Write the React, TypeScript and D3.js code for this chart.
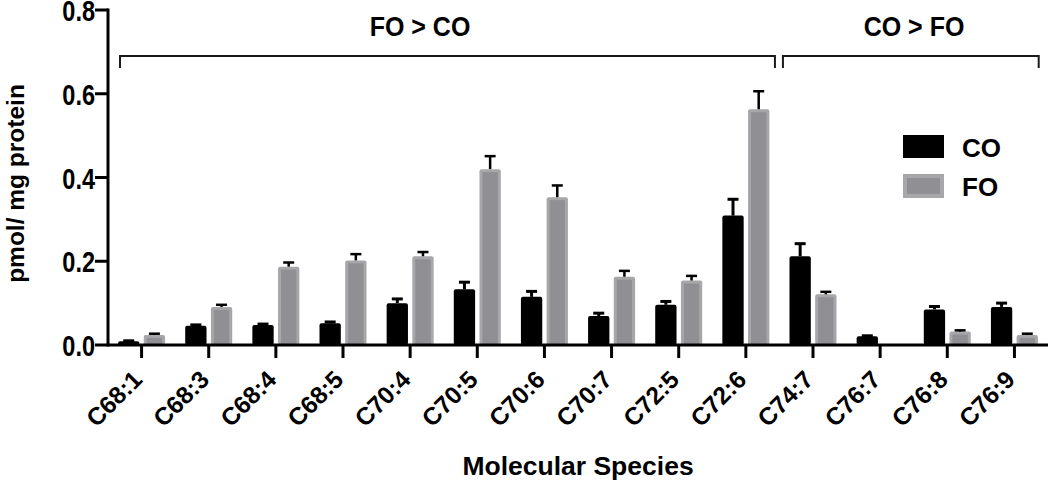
import React from "react";
import * as d3 from "d3";

const categories = ["C68:1","C68:3","C68:4","C68:5","C70:4","C70:5","C70:6","C70:7","C72:5","C72:6","C74:7","C76:7","C76:8","C76:9"];
const seriesNames = ["CO", "FO"];
const coValues = [0.009,0.046,0.048,0.052,0.100,0.133,0.115,0.069,0.096,0.309,0.212,0.021,0.085,0.091];
const coErrors = [0.001,0.002,0.002,0.003,0.010,0.017,0.013,0.007,0.008,0.039,0.030,0.001,0.007,0.009];
const foValues = [0.024,0.091,0.187,0.202,0.212,0.420,0.353,0.163,0.154,0.563,0.121,0,0.032,0.024];
const foErrors = [0.003,0.005,0.010,0.015,0.010,0.031,0.028,0.014,0.011,0.043,0.006,0,0.003,0.003];
const yTicks = [0, 0.2, 0.4, 0.6, 0.8];
const groups = [
  { label: "FO > CO", from: 0, to: 9 },
  { label: "CO > FO", from: 10, to: 13 },
];

const FONT = "'Liberation Sans', Arial, Helvetica, sans-serif";
const W = 1050, H = 485;
const M = { left: 108, right: 1048, top: 10, bottom: 345 };

export default function App() {
  const x0 = d3.scaleBand().domain(categories).range([M.left, M.right]).padding(0);
  const bw0 = x0.bandwidth();
  const x1 = d3.scaleBand().domain(seriesNames).range([bw0 / 2 - 23.5, bw0 / 2 + 23.5]).paddingInner(0.17);
  const y = d3.scaleLinear().domain([0, 0.8]).range([M.bottom, M.top]);
  const bw = x1.bandwidth();

  const series = [
    { name: "CO", values: coValues, errors: coErrors },
    { name: "FO", values: foValues, errors: foErrors },
  ];

  return (
    <svg width={W} height={H} style={{ position: "absolute", left: 0, top: 0, background: "#fff" }} fontFamily={FONT}>
      {/* bars */}
      {series.map((s) =>
        categories.map((c, i) => {
          const v = s.values[i];
          if (v <= 0) return null;
          const bx = (x0(c) as number) + (x1(s.name) as number);
          const top = y(v);
          const h = M.bottom - top;
          if (s.name === "CO") {
            return <rect key={s.name + c} x={bx} y={top} width={bw} height={h} rx={2} fill="#000" />;
          }
          return (
            <g key={s.name + c}>
              <rect x={bx} y={top} width={bw} height={h} rx={2} fill="#a7a7aa" />
              <rect x={bx + 3} y={top + 3} width={Math.max(0, bw - 6)} height={Math.max(0, h - 3)} fill="#8f8f94" />
            </g>
          );
        })
      )}
      {/* error bars */}
      {series.map((s) =>
        categories.map((c, i) => {
          const v = s.values[i];
          const e = s.errors[i];
          if (v <= 0 || e <= 0) return null;
          const cx = (x0(c) as number) + (x1(s.name) as number) + bw / 2;
          const yt = y(v + e);
          return (
            <g key={"e" + s.name + c} stroke="#000" strokeWidth={s.name === "CO" ? 3 : 2.5}>
              <line x1={cx} x2={cx} y1={y(v)} y2={yt} />
              <line x1={cx - 5.5} x2={cx + 5.5} y1={yt} y2={yt} />
            </g>
          );
        })
      )}
      {/* y axis */}
      <line x1={M.left} x2={M.left} y1={y(0.8) - 1.5} y2={M.bottom + 1.5} stroke="#000" strokeWidth={3} />
      {yTicks.map((t) => (
        <g key={t}>
          <line x1={M.left - 13} x2={M.left} y1={y(t)} y2={y(t)} stroke="#000" strokeWidth={3} />
          <text
            transform={`translate(${M.left - 13},${y(t) + 11}) scale(1,1.25)`}
            textAnchor="end"
            fontSize={23.5}
            fontWeight="bold"
            fill="#000"
          >
            {d3.format(".1f")(t)}
          </text>
        </g>
      ))}
      <text
        transform={`translate(24,${(M.top + M.bottom) / 2 + 6}) rotate(-90)`}
        textAnchor="middle"
        fontSize={24.5}
        fontWeight="bold"
        fill="#000"
      >
        pmol/ mg protein
      </text>
      {/* x axis */}
      <line x1={M.left} x2={M.right} y1={M.bottom} y2={M.bottom} stroke="#000" strokeWidth={3} />
      {categories.map((c) => {
        const cx = (x0(c) as number) + bw0 / 2;
        return (
          <g key={"t" + c}>
            <line x1={cx} x2={cx} y1={M.bottom} y2={M.bottom + 13} stroke="#000" strokeWidth={3} />
            <text
              transform={`translate(${cx + 2},${M.bottom + 36}) rotate(-45)`}
              textAnchor="end"
              fontSize={24.5}
              fontWeight="bold"
              fill="#000"
            >
              {c}
            </text>
          </g>
        );
      })}
      <text x={578} y={475} textAnchor="middle" fontSize={26.5} fontWeight="bold" fill="#000">
        Molecular Species
      </text>
      {/* group brackets */}
      {groups.map((g, gi) => {
        const xs = (x0(categories[g.from]) as number) + (gi === 0 ? 12 : 3.5);
        const xe = (x0(categories[g.to]) as number) + bw0 - (gi === 0 ? 4.5 : 9.3);
        const lx = gi === 0 ? 420 : 914;
        return (
          <g key={g.label}>
            <path d={`M${xs},68 V56 H${xe} V68`} fill="none" stroke="#1a1a1a" strokeWidth={2} />
            <text
              transform={`translate(${lx},36) scale(1,1.1)`}
              textAnchor="middle"
              fontSize={25}
              fontWeight="bold"
              fill="#000"
            >
              {g.label}
            </text>
          </g>
        );
      })}
      {/* legend */}
      <rect x={903} y={135} width={41} height={23} fill="#000" />
      <text x={962} y={157} fontSize={26} fontWeight="bold" fill="#000">CO</text>
      <rect x={903} y={174} width={41} height={24} fill="#a7a7aa" />
      <rect x={907} y={178} width={33} height={16} fill="#8f8f94" />
      <text x={962} y={196} fontSize={26} fontWeight="bold" fill="#000">FO</text>
    </svg>
  );
}
